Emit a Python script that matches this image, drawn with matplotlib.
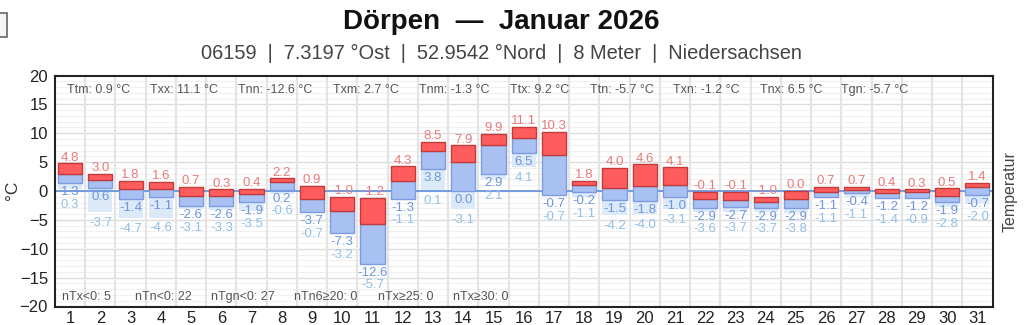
import matplotlib
matplotlib.use("Agg")
import matplotlib.pyplot as plt
from matplotlib import font_manager
from matplotlib.patches import Rectangle
from matplotlib.ticker import MultipleLocator
import numpy as np

# Daily values, January 2026, station 06159 (Dörpen)
days = list(range(1, 32))
t_max = [4.8, 3.0, 1.8, 1.6, 0.7, 0.3, 0.4, 2.2, 0.9, -1.0, -1.2, 4.3, 8.5, 7.9, 9.9, 11.1,
         10.3, 1.8, 4.0, 4.6, 4.1, -0.1, -0.1, -1.0, 0.0, 0.7, 0.7, 0.4, 0.3, 0.5, 1.4]
t_mean = [3.0, 1.9, 0.4, 0.4, -0.9, -0.9, -0.5, 1.5, -1.3, -3.5, -5.7, 1.8, 7.0, 5.0, 8.0, 9.2,
          6.3, 1.1, 0.5, 0.8, 1.1, -1.3, -1.5, -1.9, -1.3, -0.1, 0.1, -0.4, -0.2, -0.9, 0.7]
t_min = [1.3, 0.6, -1.4, -1.1, -2.6, -2.6, -1.9, 0.2, -3.7, -7.3, -12.6, -1.3, 3.8, 0.0, 2.9, 6.5,
         -0.7, -0.2, -1.5, -1.8, -1.0, -2.9, -2.7, -2.9, -2.9, -1.1, -0.4, -1.2, -1.2, -1.9, -0.7]
t_ground = [0.3, -3.7, -4.7, -4.6, -3.1, -3.3, -3.5, -0.6, -0.7, -3.2, -5.7, -1.1, 0.1, -3.1, 2.1, 4.1,
            -0.7, -1.1, -4.2, -4.0, -3.1, -3.6, -3.7, -3.7, -3.8, -1.1, -1.1, -1.4, -0.9, -2.8, -2.0]

top_stats = ["Ttm: 0.9 °C", "Txx: 11.1 °C", "Tnn: -12.6 °C", "Txm: 2.7 °C", "Tnm: -1.3 °C",
             "Ttx: 9.2 °C", "Ttn: -5.7 °C", "Txn: -1.2 °C", "Tnx: 6.5 °C", "Tgn: -5.7 °C"]
bottom_stats = ["nTx<0: 5", "nTn<0: 22", "nTgn<0: 27", "nTn6≥20: 0", "nTx≥25: 0", "nTx≥30: 0"]

title = "Dörpen  —  Januar 2026"
subtitle = "06159  |  7.3197 °Ost  |  52.9542 °Nord  |  8 Meter  |  Niedersachsen"

installed = {f.name for f in font_manager.fontManager.ttflist}
base_font = "Liberation Sans" if "Liberation Sans" in installed else "DejaVu Sans"
plt.rcParams["font.family"] = [base_font, "DejaVu Sans"]

W, H = 1024, 325
fig = plt.figure(figsize=(W / 100, H / 100), dpi=100)
left_px, right_px, top_px, bottom_px = 55, 992.5, 75.5, 306.5
ax = fig.add_axes([left_px / W, 1 - bottom_px / H, (right_px - left_px) / W, (bottom_px - top_px) / H])

ax.set_xlim(0.5, 31.5)
ax.set_ylim(-20, 20)
px_per_unit = (bottom_px - top_px) / 40.0
px_per_day = (right_px - left_px) / 31.0

# grid: fine lines every degree, stronger every 5 degrees, day separators
for y in np.arange(-19, 20, 1):
    if y % 5:
        ax.axhline(y, color="#f1f1f1", lw=0.8, zorder=0)
for y in range(-15, 20, 5):
    ax.axhline(y, color="#dcdcdc", lw=1.0, zorder=0)
for x in np.arange(1.5, 31.5, 1):
    ax.axvline(x, color="#e4e4e4", lw=1.6, zorder=0)

d = np.array(days)
tx = np.array(t_max)
tm = np.array(t_mean)
tn = np.array(t_min)
tg = np.array(t_ground)

# ground minimum span below the daily minimum
below = tg < tn
ax.bar(d[below], (tg - tn)[below], bottom=tn[below], width=0.8, color="#dbe9f8", zorder=1)

ax.axhline(0, color="#5f8fdc", lw=1.2, zorder=1.5)

ax.bar(d, tm - tn, bottom=tn, width=0.8, color="#a9c1f2", edgecolor="#7c9be0", lw=1.0, zorder=2)
ax.bar(d, tx - tm, bottom=tm, width=0.8, color="#ff5d5d", edgecolor="#c23a3a", lw=1.0, zorder=3)

lab_size = 9.5
for di, x_, n_, g_ in zip(d, tx, tn, tg):
    ax.annotate(f"{x_:.1f}", (di, x_), xytext=(0, 2.5), textcoords="offset pixels",
                ha="center", va="baseline", fontsize=lab_size, color="#e77b7b", zorder=5)
    ax.annotate(f"{n_:.1f}", (di, n_), xytext=(0, -12.0), textcoords="offset pixels",
                ha="center", va="baseline", fontsize=lab_size, color="#6f95dc", zorder=5)
    g_anchor = min(g_ - 9.0 / px_per_unit, n_ - 20.0 / px_per_unit)
    ax.annotate(f"{g_:.1f}", (di, g_anchor), xytext=(0, -4.6), textcoords="offset pixels",
                ha="center", va="baseline", fontsize=lab_size, color="#92bfe6", zorder=5)


def px_to_day(px):
    return 0.5 + (px - left_px) / px_per_day


mixed = ax.get_xaxis_transform()
top_x = [66.7, 150, 238, 332.7, 419.3, 510, 590, 673.3, 760, 840.7]
for px, s in zip(top_x, top_stats):
    ax.text(px_to_day(px), 1 - (90 - top_px) / (bottom_px - top_px), s, transform=mixed,
            ha="left", va="center", fontsize=9, color="#555555", zorder=6)
bottom_x = [61.7, 135, 211, 294.3, 377.7, 453.3]
for px, s in zip(bottom_x, bottom_stats):
    ax.text(px_to_day(px), 1 - (297 - top_px) / (bottom_px - top_px), s, transform=mixed,
            ha="left", va="center", fontsize=9, color="#555555", zorder=6)

ax.set_xticks(days)
ax.set_xticklabels([str(v) for v in days])
ax.yaxis.set_major_locator(MultipleLocator(5))
ax.tick_params(axis="both", length=0, labelsize=12, colors="#222222")
ax.tick_params(axis="x", pad=3)
ax.tick_params(axis="y", pad=5)
for sp in ax.spines.values():
    sp.set_color("#222222")
    sp.set_linewidth(1.5)
    sp.set_zorder(7)

fig.text(12 / W, 1 - 190 / H, "°C", rotation=90, ha="center", va="center", fontsize=12.5, color="#333333")
fig.text(1010 / W, 1 - 192 / H, "Temperatur", rotation=90, ha="center", va="center",
         fontsize=11.5, color="#444444")

fig.text(501 / W, 1 - 22 / H, title, ha="center", va="center", fontsize=20, fontweight="bold",
         color="#111111")
fig.text(501 / W, 1 - 53 / H, subtitle, ha="center", va="center", fontsize=14.4, color="#444444")

fig.patches.append(Rectangle((-5 / W, 1 - 37 / H), 12 / W, 24 / H, transform=fig.transFigure,
                             facecolor="#f5f5f5", edgecolor="#666666", lw=1.2))

fig.savefig("out.png", dpi=100)
